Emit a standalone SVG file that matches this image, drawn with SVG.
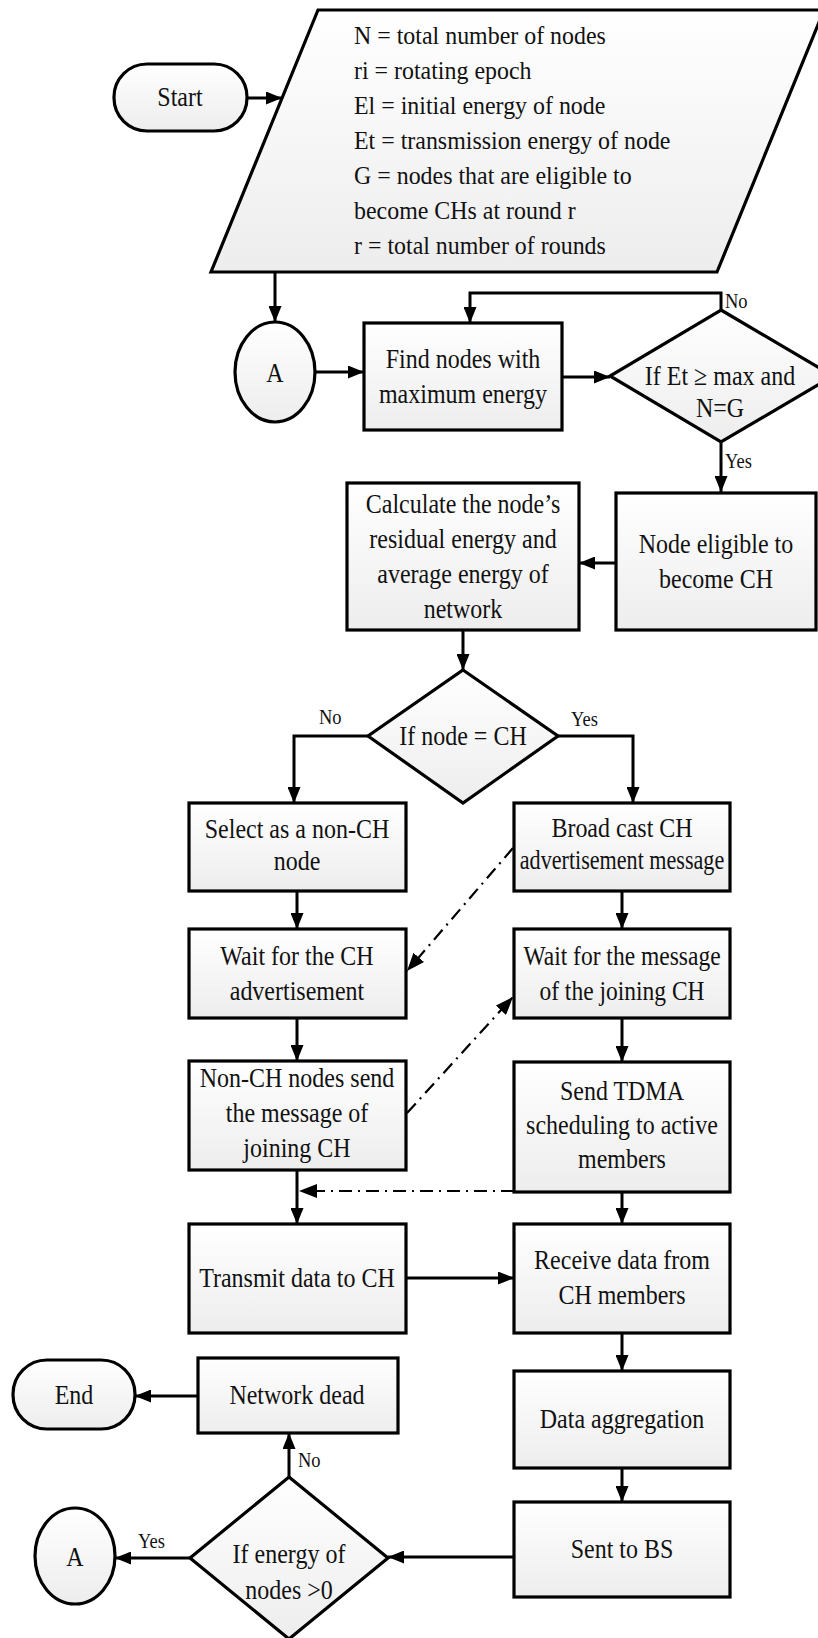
<svg xmlns="http://www.w3.org/2000/svg" width="818" height="1638" viewBox="0 0 818 1638">
<defs>
<linearGradient id="g" x1="0" y1="0" x2="0" y2="1">
<stop offset="0" stop-color="#ffffff"/>
<stop offset="1" stop-color="#ededed"/>
</linearGradient>
<marker id="ah" viewBox="0 0 16 13" refX="16" refY="6.5" markerWidth="16" markerHeight="13" markerUnits="userSpaceOnUse" orient="auto">
<path d="M0,0 L16,6.5 L0,13 z" fill="#000"/>
</marker>
<marker id="ahd" viewBox="0 0 18 14" refX="18" refY="7" markerWidth="18" markerHeight="14" markerUnits="userSpaceOnUse" orient="auto">
<path d="M0,0 L18,7 L0,14 z" fill="#000"/>
</marker>
</defs>
<style>
.n{fill:url(#g);stroke:#000;stroke-width:3.2}
.t{font-family:"Liberation Serif","Times New Roman",serif;font-size:28px;text-anchor:middle;fill:#111}
.p{font-family:"Liberation Serif","Times New Roman",serif;font-size:26px;fill:#111}
.l{font-family:"Liberation Serif","Times New Roman",serif;font-size:22px;fill:#111}
.c{fill:none;stroke:#000;stroke-width:3;marker-end:url(#ah)}
.d{fill:none;stroke:#000;stroke-width:2.2;stroke-dasharray:13 6 2 6;marker-end:url(#ahd)}
</style>
<rect width="818" height="1638" fill="#fff"/>

<g id="connectors">
<path class="c" d="M247,98 H282"/>
<path class="c" d="M275,272 V322"/>
<path class="c" d="M315,372 H364"/>
<path class="c" d="M562,377 H610"/>
<path class="c" d="M721,310 V293 H470 V323"/>
<path class="c" d="M721,442 V492"/>
<path class="c" d="M616,563 H579"/>
<path class="c" d="M463,630 V670"/>
<path class="c" d="M368,736 H294 V803"/>
<path class="c" d="M558,736 H633 V803"/>
<path class="c" d="M297,891 V929"/>
<path class="c" d="M622,891 V929"/>
<path class="c" d="M297,1018 V1061"/>
<path class="c" d="M622,1018 V1062"/>
<path class="c" d="M297,1170 V1224"/>
<path class="c" d="M622,1192 V1224"/>
<path class="c" d="M406,1278 H514"/>
<path class="c" d="M622,1333 V1371"/>
<path class="c" d="M622,1468 V1502"/>
<path class="c" d="M514,1557 H388"/>
<path class="c" d="M190,1558 H115"/>
<path class="c" d="M289,1477 V1433"/>
<path class="c" d="M198,1396 H135"/>
<path class="d" d="M513,848 L407,971"/>
<path class="d" d="M407,1113 L513,997"/>
<path class="d" d="M514,1191 H299"/>
<text class="l" transform="translate(725 0) scale(0.84 1)" x="0" y="308">No</text>
<text class="l" transform="translate(725 0) scale(0.84 1)" x="0" y="468">Yes</text>
<text class="l" transform="translate(319 0) scale(0.84 1)" x="0" y="724">No</text>
<text class="l" transform="translate(571 0) scale(0.84 1)" x="0" y="726">Yes</text>
<text class="l" transform="translate(298 0) scale(0.84 1)" x="0" y="1467">No</text>
<text class="l" transform="translate(138 0) scale(0.84 1)" x="0" y="1548">Yes</text>
</g>

<g id="start">
<rect class="n" x="114" y="64" width="133" height="67" rx="33"/>
<text class="t" transform="translate(180 0) scale(0.857 1)" x="0" y="106">Start</text>
</g>

<g id="input">
<polygon class="n" points="318,10 824,10 717,272 211,272"/>
<g transform="translate(354 0) scale(0.92 1)">
<text class="p">
<tspan x="0" y="44">N = total number of nodes</tspan>
<tspan x="0" y="79">ri = rotating epoch</tspan>
<tspan x="0" y="114">El = initial energy of node</tspan>
<tspan x="0" y="149">Et = transmission energy of node</tspan>
<tspan x="0" y="184">G = nodes that are eligible to</tspan>
<tspan x="0" y="219">become CHs at round r</tspan>
<tspan x="0" y="254">r = total number of rounds</tspan>
</text>
</g>
</g>

<g id="connA1">
<ellipse class="n" cx="275" cy="372" rx="40" ry="50"/>
<text class="t" transform="translate(275 0) scale(0.857 1)" x="0" y="382">A</text>
</g>

<g id="find">
<rect class="n" x="364" y="323" width="198" height="107"/>
<text class="t" transform="translate(463 0) scale(0.857 1)"><tspan x="0" y="368">Find nodes with</tspan><tspan x="0" y="403">maximum energy</tspan></text>
</g>

<g id="dec1">
<polygon class="n" points="721,310 833,376 721,442 610,376"/>
<text class="t" transform="translate(720 0) scale(0.857 1)"><tspan x="0" y="385">If Et ≥ max and</tspan><tspan x="0" y="417">N=G</tspan></text>
</g>

<g id="eligible">
<rect class="n" x="616" y="493" width="200" height="137"/>
<text class="t" transform="translate(716 0) scale(0.857 1)"><tspan x="0" y="553">Node eligible to</tspan><tspan x="0" y="588">become CH</tspan></text>
</g>

<g id="calc">
<rect class="n" x="347" y="483" width="232" height="147"/>
<text class="t" transform="translate(463 0) scale(0.857 1)"><tspan x="0" y="513">Calculate the node’s</tspan><tspan x="0" y="548">residual energy and</tspan><tspan x="0" y="583">average energy of</tspan><tspan x="0" y="618">network</tspan></text>
</g>

<g id="dec2">
<polygon class="n" points="463,670 558,736 463,803 368,736"/>
<text class="t" transform="translate(463 0) scale(0.857 1)" x="0" y="745">If node = CH</text>
</g>

<g id="select">
<rect class="n" x="189" y="803" width="217" height="88"/>
<text class="t" transform="translate(297 0) scale(0.857 1)"><tspan x="0" y="838">Select as a non-CH</tspan><tspan x="0" y="870">node</tspan></text>
</g>

<g id="broadcast">
<rect class="n" x="514" y="803" width="216" height="88"/>
<text class="t" transform="translate(622 0) scale(0.857 1)" x="0" y="837">Broad cast CH</text>
<text class="t" transform="translate(622 0) scale(0.79 1)" x="0" y="869">advertisement message</text>
</g>

<g id="waitch">
<rect class="n" x="189" y="929" width="217" height="89"/>
<text class="t" transform="translate(297 0) scale(0.857 1)"><tspan x="0" y="965">Wait for the CH</tspan><tspan x="0" y="1000">advertisement</tspan></text>
</g>

<g id="waitmsg">
<rect class="n" x="514" y="929" width="216" height="89"/>
<text class="t" transform="translate(622 0) scale(0.84 1)"><tspan x="0" y="965">Wait for the message</tspan><tspan x="0" y="1000">of the joining CH</tspan></text>
</g>

<g id="nonch">
<rect class="n" x="189" y="1061" width="217" height="109"/>
<text class="t" transform="translate(297 0) scale(0.857 1)"><tspan x="0" y="1087">Non-CH nodes send</tspan><tspan x="0" y="1122">the message of</tspan><tspan x="0" y="1157">joining CH</tspan></text>
</g>

<g id="tdma">
<rect class="n" x="514" y="1062" width="216" height="130"/>
<text class="t" transform="translate(622 0) scale(0.857 1)"><tspan x="0" y="1100">Send TDMA</tspan><tspan x="0" y="1134">scheduling to active</tspan><tspan x="0" y="1168">members</tspan></text>
</g>

<g id="transmit">
<rect class="n" x="189" y="1224" width="217" height="109"/>
<text class="t" transform="translate(297 0) scale(0.857 1)" x="0" y="1287">Transmit data to CH</text>
</g>

<g id="receive">
<rect class="n" x="514" y="1224" width="216" height="109"/>
<text class="t" transform="translate(622 0) scale(0.857 1)"><tspan x="0" y="1269">Receive data from</tspan><tspan x="0" y="1304">CH members</tspan></text>
</g>

<g id="aggregation">
<rect class="n" x="514" y="1371" width="216" height="97"/>
<text class="t" transform="translate(622 0) scale(0.857 1)" x="0" y="1428">Data aggregation</text>
</g>

<g id="sentbs">
<rect class="n" x="514" y="1502" width="216" height="95"/>
<text class="t" transform="translate(622 0) scale(0.857 1)" x="0" y="1558">Sent to BS</text>
</g>

<g id="dec3">
<polygon class="n" points="289,1477 388,1558 289,1639 190,1558"/>
<text class="t" transform="translate(289 0) scale(0.857 1)"><tspan x="0" y="1563">If energy of</tspan><tspan x="0" y="1599">nodes &gt;0</tspan></text>
</g>

<g id="connA2">
<ellipse class="n" cx="75" cy="1556" rx="40" ry="48"/>
<text class="t" transform="translate(75 0) scale(0.857 1)" x="0" y="1566">A</text>
</g>

<g id="dead">
<rect class="n" x="198" y="1358" width="200" height="75"/>
<text class="t" transform="translate(297 0) scale(0.857 1)" x="0" y="1404">Network dead</text>
</g>

<g id="end">
<rect class="n" x="13" y="1360" width="122" height="69" rx="34"/>
<text class="t" transform="translate(74 0) scale(0.857 1)" x="0" y="1404">End</text>
</g>
</svg>
